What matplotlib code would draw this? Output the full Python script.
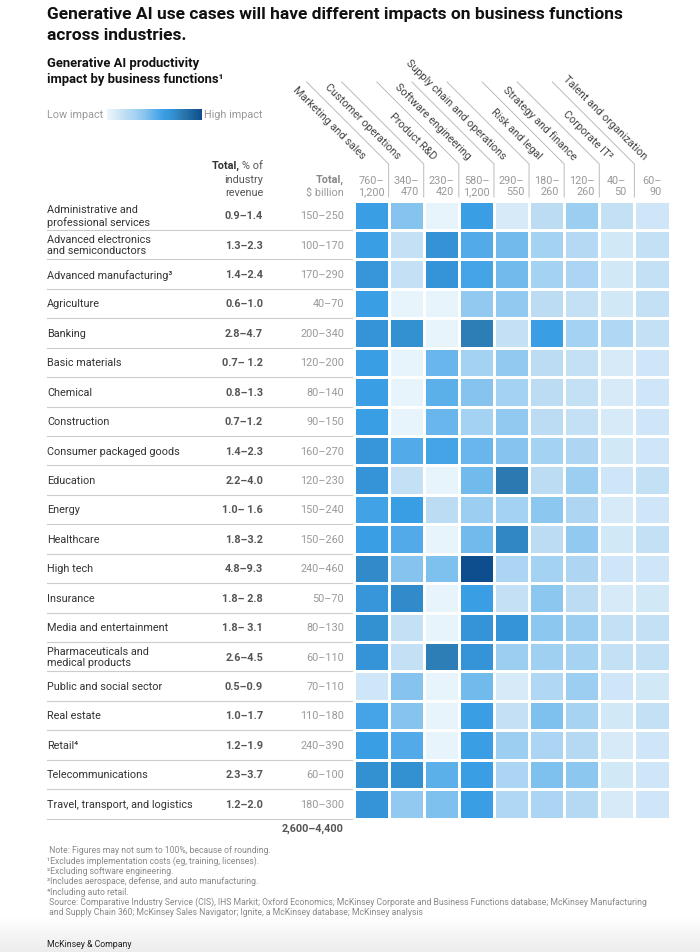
import matplotlib
matplotlib.use("Agg")
import matplotlib.pyplot as plt
import matplotlib.transforms as mtransforms
from matplotlib.colors import LinearSegmentedColormap
import numpy as np

plt.rcParams["font.family"] = ["Roboto", "DejaVu Sans"]

# ---- data -----------------------------------------------------------------
industries = [
    "Administrative and\nprofessional services",
    "Advanced electronics\nand semiconductors",
    "Advanced manufacturing³",
    "Agriculture",
    "Banking",
    "Basic materials",
    "Chemical",
    "Construction",
    "Consumer packaged goods",
    "Education",
    "Energy",
    "Healthcare",
    "High tech",
    "Insurance",
    "Media and entertainment",
    "Pharmaceuticals and\nmedical products",
    "Public and social sector",
    "Real estate",
    "Retail⁴",
    "Telecommunications",
    "Travel, transport, and logistics",
]
pct_revenue = [
    "0.9–1.4", "1.3–2.3", "1.4–2.4", "0.6–1.0", "2.8–4.7", "0.7– 1.2",
    "0.8–1.3", "0.7–1.2", "1.4–2.3", "2.2–4.0", "1.0– 1.6", "1.8–3.2",
    "4.8–9.3", "1.8– 2.8", "1.8– 3.1", "2.6–4.5", "0.5–0.9", "1.0–1.7",
    "1.2–1.9", "2.3–3.7", "1.2–2.0",
]
total_billion = [
    "150–250", "100–170", "170–290", "40–70", "200–340", "120–200",
    "80–140", "90–150", "160–270", "120–230", "150–240", "150–260",
    "240–460", "50–70", "80–130", "60–110", "70–110", "110–180",
    "240–390", "60–100", "180–300",
]
grand_total = "2,600–4,400"

functions = [
    "Marketing and sales", "Customer operations", "Product R&D",
    "Software engineering", "Supply chain and operations", "Risk and legal",
    "Strategy and finance", "Corporate IT²", "Talent and organization",
]
function_totals = [
    "760–\n1,200", "340–\n470", "230–\n420", "580–\n1,200", "290–\n550",
    "180–\n260", "120–\n260", "40–\n50", "60–\n90",
]

# relative impact, 0 = low, 1 = high (read from cell shading)
impact = np.array([
    [0.60, 0.40, 0.02, 0.60, 0.10, 0.20, 0.33, 0.17, 0.13],
    [0.60, 0.17, 0.68, 0.53, 0.45, 0.30, 0.23, 0.12, 0.17],
    [0.66, 0.17, 0.67, 0.57, 0.45, 0.30, 0.27, 0.12, 0.17],
    [0.60, 0.02, 0.02, 0.36, 0.36, 0.20, 0.17, 0.12, 0.17],
    [0.67, 0.70, 0.02, 0.78, 0.17, 0.60, 0.30, 0.25, 0.17],
    [0.60, 0.02, 0.47, 0.30, 0.36, 0.20, 0.17, 0.10, 0.13],
    [0.60, 0.02, 0.50, 0.40, 0.30, 0.20, 0.17, 0.10, 0.13],
    [0.60, 0.02, 0.47, 0.30, 0.36, 0.20, 0.17, 0.10, 0.13],
    [0.66, 0.53, 0.57, 0.47, 0.40, 0.30, 0.26, 0.12, 0.13],
    [0.67, 0.17, 0.02, 0.45, 0.80, 0.20, 0.33, 0.13, 0.17],
    [0.58, 0.60, 0.20, 0.33, 0.30, 0.38, 0.26, 0.10, 0.13],
    [0.60, 0.53, 0.02, 0.45, 0.74, 0.20, 0.36, 0.12, 0.17],
    [0.72, 0.40, 0.42, 1.00, 0.27, 0.30, 0.26, 0.13, 0.13],
    [0.66, 0.72, 0.02, 0.60, 0.17, 0.38, 0.20, 0.10, 0.12],
    [0.70, 0.17, 0.02, 0.67, 0.67, 0.38, 0.33, 0.17, 0.17],
    [0.67, 0.17, 0.78, 0.67, 0.33, 0.32, 0.29, 0.17, 0.17],
    [0.13, 0.40, 0.02, 0.45, 0.10, 0.25, 0.33, 0.13, 0.12],
    [0.57, 0.40, 0.02, 0.60, 0.17, 0.42, 0.29, 0.12, 0.17],
    [0.60, 0.53, 0.02, 0.60, 0.33, 0.27, 0.23, 0.10, 0.13],
    [0.70, 0.70, 0.50, 0.60, 0.27, 0.42, 0.38, 0.12, 0.13],
    [0.67, 0.36, 0.42, 0.60, 0.25, 0.27, 0.23, 0.10, 0.13],
])

notes = [
    " Note: Figures may not sum to 100%, because of rounding.",
    "¹Excludes implementation costs (eg, training, licenses).",
    "²Excluding software engineering.",
    "³Includes aerospace, defense, and auto manufacturing.",
    "⁴Including auto retail.",
    " Source: Comparative Industry Service (CIS), IHS Markit; Oxford Economics; McKinsey Corporate and Business Functions database; McKinsey Manufacturing",
    " and Supply Chain 360; McKinsey Sales Navigator; Ignite, a McKinsey database; McKinsey analysis",
]

cmap = LinearSegmentedColormap.from_list("impact", [
    (0.00, "#ecf6fd"), (0.10, "#d6eaf8"), (0.20, "#bcdcf4"),
    (0.30, "#a4d2f2"), (0.40, "#86c4ef"), (0.50, "#5cb0ea"),
    (0.60, "#3a9ee4"), (0.70, "#3390d2"), (0.80, "#2b79b0"),
    (1.00, "#0e4e8e"),
])

# ---- layout (pixels) --------------------------------------------------------
W, H = 700, 953
HM_L, HM_R, HM_T, HM_B = 353.5, 669.5, 201.5, 819.5
LEFT = 47
COL_W = (HM_R - HM_L) / len(functions)
FS = 7.8

fig = plt.figure(figsize=(W / 100, H / 100), dpi=100)
canvas = fig.add_axes([0, 0, 1, 1])

# grey fade at the bottom
fade = np.linspace(0, 1, 50).reshape(-1, 1)
canvas.imshow(fade, extent=[0, W, 953, 918], origin="upper", aspect="auto",
              cmap=LinearSegmentedColormap.from_list("fade", ["#ffffff", "#ececec"]),
              zorder=0)
canvas.set_xlim(0, W)
canvas.set_ylim(H, 0)
canvas.axis("off")

hm = fig.add_axes([HM_L / W, 1 - HM_B / H, (HM_R - HM_L) / W, (HM_B - HM_T) / H])
hm.pcolormesh(impact, cmap=cmap, vmin=0, vmax=1, edgecolors="white", linewidth=2.1)
hm.set_xlim(0, len(functions))
hm.set_ylim(len(industries), 0)
hm.axis("off")

rows = mtransforms.blended_transform_factory(canvas.transData, hm.transData)
cols = mtransforms.blended_transform_factory(hm.transData, canvas.transData)
label_tf = mtransforms.offset_copy(cols, fig=fig, x=-7, y=0, units="dots")

# ---- titles & legend --------------------------------------------------------
canvas.text(LEFT, 14, "Generative AI use cases will have different impacts on business functions",
            fontsize=12.5, fontweight="bold", color="#111111", va="center")
canvas.text(LEFT, 35, "across industries.",
            fontsize=12.5, fontweight="bold", color="#111111", va="center")
canvas.text(LEFT, 64, "Generative AI productivity",
            fontsize=9.4, fontweight="bold", color="#111111", va="center")
canvas.text(LEFT, 79, "impact by business functions¹",
            fontsize=9.4, fontweight="bold", color="#111111", va="center")

canvas.text(LEFT, 115, "Low impact", fontsize=FS, color="#999999", va="center")
leg = fig.add_axes([107 / W, 1 - 121 / H, 95 / W, 11 / H])
leg.imshow(np.linspace(0, 1, 256).reshape(1, -1), cmap=cmap, aspect="auto")
leg.axis("off")
canvas.text(204, 115, "High impact", fontsize=FS, color="#999999", va="center")

# ---- left table -------------------------------------------------------------
canvas.text(239.5, 166, "Total,", fontsize=FS, fontweight="bold", color="#333333",
            ha="right", va="center")
canvas.text(263, 166, "% of", fontsize=FS, color="#555555", ha="right", va="center")
canvas.text(263, 180, "industry", fontsize=FS, color="#555555", ha="right", va="center")
canvas.text(263, 193, "revenue", fontsize=FS, color="#555555", ha="right", va="center")
canvas.text(344, 180, "Total,", fontsize=FS, fontweight="bold", color="#888888",
            ha="right", va="center")
canvas.text(344, 193, "$ billion", fontsize=FS, color="#999999", ha="right", va="center")

for i, name in enumerate(industries):
    yc = i + 0.5
    canvas.text(LEFT, yc, name, transform=rows, fontsize=FS, color="#333333",
                ha="left", va="center", linespacing=1.2)
    canvas.text(263, yc, pct_revenue[i], transform=rows, fontsize=FS,
                fontweight="bold", color="#555555", ha="right", va="center")
    canvas.text(344, yc, total_billion[i], transform=rows, fontsize=FS,
                color="#999999", ha="right", va="center")
    canvas.plot([LEFT, 352], [i + 1, i + 1], transform=rows, color="#cccccc", lw=0.8)

canvas.text(344, 829, grand_total, fontsize=FS, fontweight="bold", color="#555555",
            ha="right", va="center")

# ---- column headers ---------------------------------------------------------
for j, (fn, tot) in enumerate(zip(functions, function_totals)):
    canvas.text(j + 0.5, 186.5, tot, transform=cols, fontsize=FS, color="#999999",
                ha="center", va="center", multialignment="right", linespacing=1.2)
    canvas.text(j + 0.5, 158, fn, transform=label_tf, fontsize=FS, color="#444444",
                rotation=-45, rotation_mode="anchor", ha="right", va="center")

for j in range(1, len(functions)):
    xb = HM_L + j * COL_W
    canvas.plot([xb - 82, xb, xb], [83, 165, 198], color="#bbbbbb", lw=0.7)

# ---- notes ------------------------------------------------------------------
for k, line in enumerate(notes):
    canvas.text(LEFT, 851 + k * 10.3, line, fontsize=6.2, color="#888888", va="center")
canvas.text(LEFT, 945, "McKinsey & Company", fontsize=6.3, color="#222222", va="center")

fig.savefig("out.png", dpi=100)
